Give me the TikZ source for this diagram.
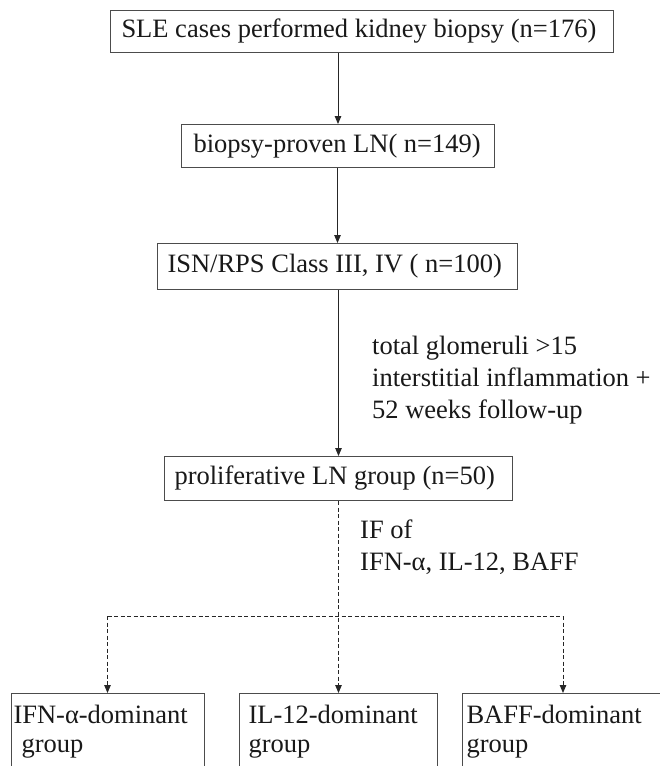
\documentclass[tikz,border=0pt]{standalone}
\usepackage{fontspec}
\setmainfont{Liberation Serif}
\usetikzlibrary{arrows.meta}
\begin{document}
\begin{tikzpicture}[x=1pt,y=-1pt,
  boxnode/.style={draw=black!70, line width=1pt, anchor=north west, inner ysep=0pt, font=\fontsize{26.5}{32}\selectfont, text=black!90},
  grpnode/.style={draw=black!70, line width=1pt, anchor=north west, inner ysep=12pt, align=left, font=\fontsize{26.5}{29}\selectfont, text=black!90},
  lbl/.style={anchor=north west, inner sep=0pt, align=left, font=\fontsize{26.5}{32}\selectfont, text=black!90},
  arr/.style={draw=black!85, line width=1pt, -{Triangle[length=8pt,width=6.5pt]}},
  dsh/.style={draw=black!85, line width=1pt, dash pattern=on 4pt off 2.5pt},
]
\useasboundingbox (0,0) rectangle (660,766);
\clip (0,0) rectangle (660,766);
\fill[white] (0,0) rectangle (660,766);

% main boxes
\node[boxnode, inner xsep=11pt, minimum width=503pt, minimum height=42pt] (b1) at (110,10) {\makebox[481pt][l]{SLE cases performed kidney biopsy (n=176)}};
\node[boxnode, inner xsep=12pt, minimum width=313pt, minimum height=43pt] (b2) at (181,124) {\makebox[289pt][l]{biopsy-proven LN( n=149)}};
\node[boxnode, inner xsep=10pt, minimum width=360pt, minimum height=46pt] (b3) at (157,243) {\makebox[340pt][l]{ISN/RPS Class III, IV ( n=100)}};
\node[boxnode, inner xsep=10pt, minimum width=348pt, minimum height=44pt] (b4) at (164,456) {\makebox[328pt][l]{proliferative LN group (n=50)}};

% bottom group boxes
\node[grpnode, inner xsep=2pt, text width=189pt] (g1) at (11,693) {IFN-α-dominant\\\hspace*{8pt}group};
\node[grpnode, inner xsep=9pt, text width=180pt] (g2) at (239,693) {IL-12-dominant\\group};
\node[grpnode, inner xsep=4pt, text width=210pt] (g3) at (462,693) {BAFF-dominant\\group};

% labels
\node[lbl] (crit) at (372,336) {total glomeruli >15\\interstitial inflammation +\\52 weeks follow-up};
\node[lbl] (ifof) at (360,520) {IF of\\IFN-α, IL-12, BAFF};

% solid arrows
\draw[arr] (b2.north |- b1.south) -- (b2.north);
\draw[arr] (b3.north |- b2.south) -- (b3.north);
\draw[arr] (b4.north |- b3.south) -- (b4.north);

% dashed branching
\coordinate (hl) at (107.5,616);
\coordinate (hr) at (563,616);
\draw[dsh] (hl) -- (hr);
\draw[dsh, arr] (b4.south) -- (b4.south |- g2.north);
\draw[dsh, arr] (hl) -- (hl |- g1.north);
\draw[dsh, arr] (hr) -- (hr |- g3.north);
\end{tikzpicture}
\end{document}
